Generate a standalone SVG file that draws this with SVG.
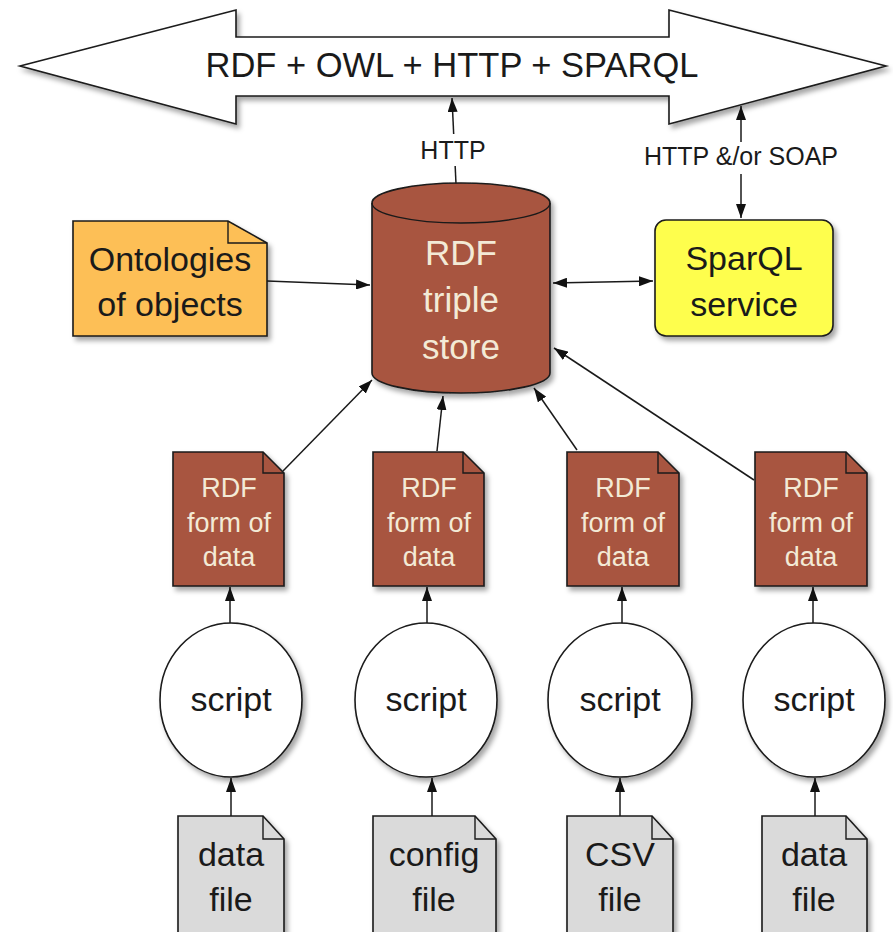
<svg xmlns="http://www.w3.org/2000/svg" width="893" height="932" viewBox="0 0 893 932">
  <defs>
    <style>
      text { font-family: "Liberation Sans", Arial, Helvetica, sans-serif; text-anchor: middle; }
      .t34 { font-size: 34px; fill: #1a1a1a; }
      .t27 { font-size: 27px; fill: #f3ead6; }
      .t34w { font-size: 35px; fill: #f3ead6; }
      .lbl { font-size: 25px; fill: #1a1a1a; }
      .edge { fill: none; stroke: #1a1a1a; stroke-width: 1.5; }
      .node { stroke: #1a1a1a; stroke-width: 1.6; filter: url(#shadow); }
      .fold { fill: none; stroke: #1a1a1a; stroke-width: 1.4; }
      .brown { fill: #a8553f; }
      .grey { fill: #dadada; }
      .white { fill: #ffffff; }
    </style>
    <filter id="shadow" x="-20%" y="-20%" width="150%" height="150%">
      <feDropShadow dx="3" dy="4" stdDeviation="2.5" flood-color="#000" flood-opacity="0.35"/>
    </filter>
    <marker id="arrow" viewBox="0 0 14 10" refX="14" refY="5" markerWidth="14" markerHeight="10" markerUnits="userSpaceOnUse" orient="auto-start-reverse">
      <path d="M0,0 L14,5 L0,10 z" fill="#111"/>
    </marker>
  </defs>

  <rect width="893" height="932" fill="#ffffff"/>

  <!-- protocol banner: wide double-headed arrow -->
  <g id="protocols">
    <polygon class="node white" points="20,66 236,10 236,37 669,37 669,10 886,66 669,124 669,96 236,96 236,124"/>
    <text x="452" y="77" style="font-size:34.5px;fill:#1a1a1a">RDF + OWL + HTTP + SPARQL</text>
  </g>

  <!-- connectors -->
  <g id="connectors">
    <line class="edge" x1="456" y1="184" x2="452" y2="98" marker-end="url(#arrow)"/>
    <line class="edge" x1="741" y1="106" x2="741" y2="218" marker-start="url(#arrow)" marker-end="url(#arrow)"/>
    <line class="edge" x1="267" y1="281" x2="370" y2="285" marker-end="url(#arrow)"/>
    <line class="edge" x1="553" y1="283" x2="653" y2="281" marker-start="url(#arrow)" marker-end="url(#arrow)"/>
    <line class="edge" x1="283" y1="471" x2="372" y2="380" marker-end="url(#arrow)"/>
    <line class="edge" x1="437" y1="451" x2="443" y2="396" marker-end="url(#arrow)"/>
    <line class="edge" x1="577" y1="450" x2="534" y2="388" marker-end="url(#arrow)"/>
    <line class="edge" x1="754" y1="480" x2="554" y2="348" marker-end="url(#arrow)"/>
    <line class="edge" x1="230" y1="623" x2="230" y2="587" marker-end="url(#arrow)"/>
    <line class="edge" x1="427" y1="623" x2="427" y2="587" marker-end="url(#arrow)"/>
    <line class="edge" x1="622" y1="623" x2="622" y2="587" marker-end="url(#arrow)"/>
    <line class="edge" x1="813" y1="623" x2="813" y2="587" marker-end="url(#arrow)"/>
    <line class="edge" x1="231" y1="816" x2="231" y2="778" marker-end="url(#arrow)"/>
    <line class="edge" x1="432" y1="816" x2="432" y2="778" marker-end="url(#arrow)"/>
    <line class="edge" x1="620" y1="816" x2="620" y2="778" marker-end="url(#arrow)"/>
    <line class="edge" x1="815" y1="816" x2="815" y2="778" marker-end="url(#arrow)"/>
    <!-- connector labels -->
    <rect x="412" y="134" width="82" height="32" fill="#ffffff"/>
    <text class="lbl" x="453" y="159">HTTP</text>
    <rect x="630" y="142" width="222" height="32" fill="#ffffff"/>
    <text class="lbl" x="741" y="165">HTTP &amp;/or SOAP</text>
  </g>

  <!-- triple store cylinder -->
  <g id="triple-store">
    <path class="node brown" d="M372,203 L372,373 A89,20 0 0 0 550,373 L550,203 A89,20 0 0 0 372,203 z"/>
    <path class="fold" d="M372,203 A89,20 0 0 0 550,203"/>
    <text class="t34w" x="461" y="265">RDF</text>
    <text class="t34w" x="461" y="312">triple</text>
    <text class="t34w" x="461" y="359">store</text>
  </g>

  <!-- ontologies note -->
  <g id="ontologies">
    <path class="node" fill="#fdbf56" d="M73,221 H228 L267,243 V336 H73 z"/>
    <path class="fold" d="M228,221 V243 H267"/>
    <text class="t34" x="170" y="271">Ontologies</text>
    <text class="t34" x="170" y="316">of objects</text>
  </g>

  <!-- SparQL service -->
  <g id="sparql-service">
    <rect class="node" fill="#fefe4e" x="655" y="220" width="178" height="116" rx="11" ry="11"/>
    <text class="t34" x="744" y="270">SparQL</text>
    <text class="t34" x="744" y="316">service</text>
  </g>

  <!-- RDF documents -->
  <g id="rdf-1">
    <path class="node brown" d="M173,452 H263 L284,473 V586 H173 z"/>
    <path class="fold" d="M263,452 V473 H284"/>
    <text class="t27" x="229" y="497">RDF</text>
    <text class="t27" x="229" y="532">form of</text>
    <text class="t27" x="229" y="566">data</text>
  </g>
  <g id="rdf-2">
    <path class="node brown" d="M373,452 H463 L484,473 V586 H373 z"/>
    <path class="fold" d="M463,452 V473 H484"/>
    <text class="t27" x="429" y="497">RDF</text>
    <text class="t27" x="429" y="532">form of</text>
    <text class="t27" x="429" y="566">data</text>
  </g>
  <g id="rdf-3">
    <path class="node brown" d="M567,452 H658 L679,473 V586 H567 z"/>
    <path class="fold" d="M658,452 V473 H679"/>
    <text class="t27" x="623" y="497">RDF</text>
    <text class="t27" x="623" y="532">form of</text>
    <text class="t27" x="623" y="566">data</text>
  </g>
  <g id="rdf-4">
    <path class="node brown" d="M755,452 H846 L867,473 V586 H755 z"/>
    <path class="fold" d="M846,452 V473 H867"/>
    <text class="t27" x="811" y="497">RDF</text>
    <text class="t27" x="811" y="532">form of</text>
    <text class="t27" x="811" y="566">data</text>
  </g>

  <!-- scripts -->
  <g id="script-1">
    <ellipse class="node white" cx="231" cy="700" rx="71" ry="77"/>
    <text class="t34" x="231" y="711">script</text>
  </g>
  <g id="script-2">
    <ellipse class="node white" cx="426" cy="700" rx="71" ry="77"/>
    <text class="t34" x="426" y="711">script</text>
  </g>
  <g id="script-3">
    <ellipse class="node white" cx="620" cy="700" rx="72" ry="77"/>
    <text class="t34" x="620" y="711">script</text>
  </g>
  <g id="script-4">
    <ellipse class="node white" cx="814" cy="700" rx="71" ry="77"/>
    <text class="t34" x="814" y="711">script</text>
  </g>

  <!-- source files -->
  <g id="file-1">
    <path class="node grey" d="M178,816 H263 L284,839 V940 H178 z"/>
    <path class="fold" d="M263,816 V839 H284"/>
    <text class="t34" x="231" y="866">data</text>
    <text class="t34" x="231" y="911">file</text>
  </g>
  <g id="file-2">
    <path class="node grey" d="M373,816 H475 L496,839 V940 H373 z"/>
    <path class="fold" d="M475,816 V839 H496"/>
    <text class="t34" x="434" y="866">config</text>
    <text class="t34" x="434" y="911">file</text>
  </g>
  <g id="file-3">
    <path class="node grey" d="M567,816 H652 L673,839 V940 H567 z"/>
    <path class="fold" d="M652,816 V839 H673"/>
    <text class="t34" x="620" y="866">CSV</text>
    <text class="t34" x="620" y="911">file</text>
  </g>
  <g id="file-4">
    <path class="node grey" d="M762,816 H846 L867,839 V940 H762 z"/>
    <path class="fold" d="M846,816 V839 H867"/>
    <text class="t34" x="814" y="866">data</text>
    <text class="t34" x="814" y="911">file</text>
  </g>
</svg>
